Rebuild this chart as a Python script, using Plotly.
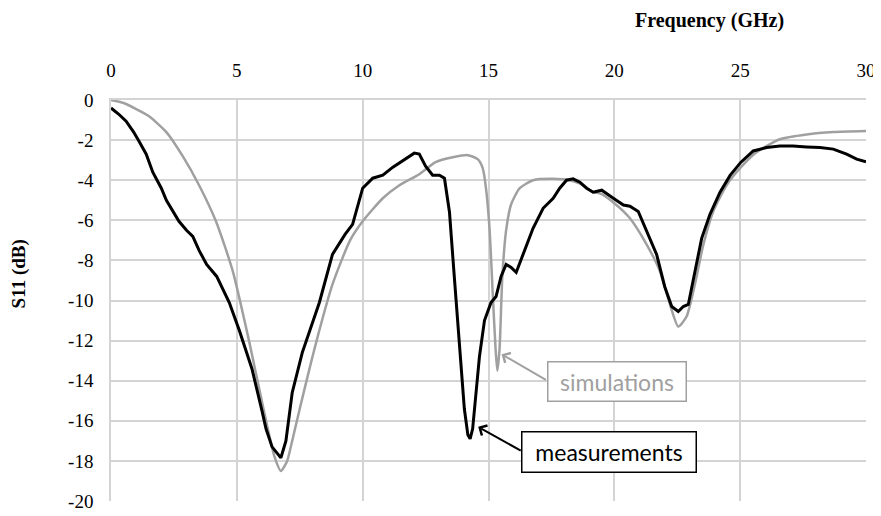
import plotly.graph_objects as go

# Simulated S11 (grey)
sim_freq = [0, 0.5, 1.0, 1.5, 2.2, 2.85, 3.5, 4.17, 4.83, 5.5, 6.16, 6.5, 6.75, 7.0, 7.2, 7.5,
            8.15, 8.8, 9.5, 10, 10.8, 11.46, 12.25, 12.9, 13.58, 14.18, 14.57, 14.77, 14.9, 15.04,
            15.17, 15.28, 15.35, 15.44, 15.55, 15.7, 15.9, 16.24, 16.77, 17.57, 18.23, 18.64, 19.16,
            19.43, 20.0, 20.62, 21.28, 21.8, 22.2, 22.54, 22.87, 23.2, 23.54, 23.93, 24.46, 25.03,
            25.65, 26.58, 27.64, 28.7, 30]
sim_s11 = [0, -0.15, -0.45, -0.8, -1.6, -2.8, -4.25, -6.05, -8.5, -12.1, -16, -17.8, -18.5, -18.0,
           -17, -15.4, -12.1, -9.2, -7.0, -6.05, -4.9, -4.25, -3.7, -3.1, -2.86, -2.75, -2.95, -3.4,
           -4.4, -6.4, -9.7, -12.4, -13.5, -12.4, -8.8, -6.5, -5.2, -4.4, -4.0, -3.93, -4.0, -4.17,
           -4.6, -4.66, -5.15, -5.9, -7.2, -8.5, -10.15, -11.3, -10.8, -9.2, -7.2, -5.56, -4.25,
           -3.35, -2.6, -1.96, -1.72, -1.6, -1.55]

# Measured S11 (black)
meas_freq = [0, 0.3, 0.6, 0.9, 1.13, 1.4, 1.66, 2.0, 2.2, 2.5, 2.7, 3.0, 3.25, 3.5, 3.8, 4.2, 4.7,
             5.1, 5.6, 6.0, 6.16, 6.4, 6.75, 6.95, 7.2, 7.6, 8.28, 8.8, 9.3, 9.6, 10, 10.4, 10.8,
             11.2, 11.7, 12.05, 12.25, 12.5, 12.78, 13.05, 13.25, 13.45, 13.64, 13.84, 14.04, 14.18,
             14.27, 14.37, 14.5, 14.64, 14.84, 15.1, 15.3, 15.5, 15.7, 15.9, 16.1, 16.37, 16.77,
             17.17, 17.57, 17.83, 18.1, 18.36, 18.63, 18.9, 19.16, 19.5, 19.76, 19.96, 20.36, 20.62,
             20.95, 21.28, 21.68, 22.0, 22.28, 22.54, 22.74, 22.94, 23.2, 23.47, 23.8, 24.2, 24.6,
             25.03, 25.52, 26.05, 26.58, 27.1, 27.64, 28.17, 28.7, 29.23, 29.63, 30]
meas_s11 = [-0.4, -0.7, -1.06, -1.6, -2.1, -2.7, -3.6, -4.4, -5.0, -5.6, -6.05, -6.5, -6.8, -7.5,
            -8.2, -8.8, -10.1, -11.5, -13.4, -15.5, -16.4, -17.3, -17.85, -17.0, -14.6, -12.6,
            -10.1, -7.7, -6.7, -6.2, -4.4, -3.9, -3.75, -3.35, -2.95, -2.65, -2.7, -3.3, -3.75,
            -3.75, -3.9, -5.6, -8.8, -12.1, -15.4, -16.7, -16.9, -16.4, -14.6, -12.8, -11.0, -10.1,
            -9.8, -8.8, -8.2, -8.35, -8.6, -7.7, -6.4, -5.4, -4.9, -4.4, -4.0, -3.93, -4.1, -4.4,
            -4.6, -4.5, -4.75, -4.9, -5.24, -5.3, -5.56, -6.55, -7.7, -9.3, -10.3, -10.55, -10.3,
            -10.2, -8.5, -6.9, -5.7, -4.6, -3.76, -3.1, -2.54, -2.37, -2.3, -2.3, -2.34, -2.37,
            -2.45, -2.7, -2.95, -3.08]

x_ticks = [0, 5, 10, 15, 20, 25, 30]
y_ticks = [0, -2, -4, -6, -8, -10, -12, -14, -16, -18, -20]

GRID = "#d4d4d4"
SIM_COLOR = "#a0a0a0"
SERIF = "Liberation Serif, Times New Roman, serif"
SANS = "Lato, Carlito, sans-serif"

fig = go.Figure()
fig.add_trace(go.Scatter(x=sim_freq, y=sim_s11, mode="lines", name="simulations",
                         line=dict(color=SIM_COLOR, width=2.5, shape="spline", smoothing=0.6)))
fig.add_trace(go.Scatter(x=meas_freq, y=meas_s11, mode="lines", name="measurements",
                         line=dict(color="#000000", width=3)))

annotations = [
    dict(text="<b>Frequency (GHz)</b>", xref="paper", yref="paper", x=(709 - 111) / 755,
         y=1 + (100 - 19) / 407, showarrow=False, xanchor="center", yanchor="middle",
         font=dict(family=SERIF, size=20, color="#000")),
    dict(text="<b>S11 (dB)</b>", xref="paper", yref="paper", x=-(111 - 19) / 755,
         y=1 - (277 - 100) / 407, showarrow=False, xanchor="center", yanchor="middle",
         textangle=-90, font=dict(family=SERIF, size=19, color="#000")),
    # boxes
    dict(text="simulations", x=20.09, y=-14.05, xref="x", yref="y", showarrow=False,
         width=137, height=38, borderpad=0, bordercolor=SIM_COLOR, borderwidth=1.5,
         bgcolor="#ffffff", font=dict(family=SANS, size=23, color=SIM_COLOR)),
    dict(text="measurements", x=19.80, y=-17.57, xref="x", yref="y", showarrow=False,
         width=173, height=39, borderpad=0, bordercolor="#000000", borderwidth=1.5,
         bgcolor="#ffffff", font=dict(family=SANS, size=23, color="#000000")),
    # arrows
    dict(text="", x=15.52, y=-12.68, xref="x", yref="y", ax=17.34, ay=-14.0, axref="x", ayref="y",
         showarrow=True, arrowhead=4, arrowsize=1.1, arrowwidth=2, arrowcolor=SIM_COLOR),
    dict(text="", x=14.59, y=-16.3, xref="x", yref="y", ax=16.34, ay=-17.53, axref="x", ayref="y",
         showarrow=True, arrowhead=4, arrowsize=1.1, arrowwidth=2, arrowcolor="#000000"),
]

fig.update_layout(
    width=881, height=516,
    margin=dict(l=103, r=23, t=92, b=17),
    font=dict(family=SERIF, size=19, color="#000"),
    plot_bgcolor="#ffffff", paper_bgcolor="#ffffff",
    showlegend=False,
    annotations=annotations,
    xaxis=dict(side="top", range=[0, 30], tickvals=x_ticks, ticktext=[str(v) for v in x_ticks],
               showgrid=True, gridcolor=GRID, gridwidth=1.5, zeroline=False,
               showline=True, linecolor=GRID, linewidth=1.5, ticks="",
               ticklabelstandoff=14, tickfont=dict(family=SERIF, size=19, color="#000")),
    yaxis=dict(range=[-20, 0], tickvals=y_ticks, ticktext=[str(v) for v in y_ticks],
               showgrid=True, gridcolor=GRID, gridwidth=1.5, zeroline=False,
               showline=True, linecolor=GRID, linewidth=1.5, ticks="",
               ticklabelstandoff=12, tickfont=dict(family=SERIF, size=19, color="#000")),
)

fig.write_html("out.html")
